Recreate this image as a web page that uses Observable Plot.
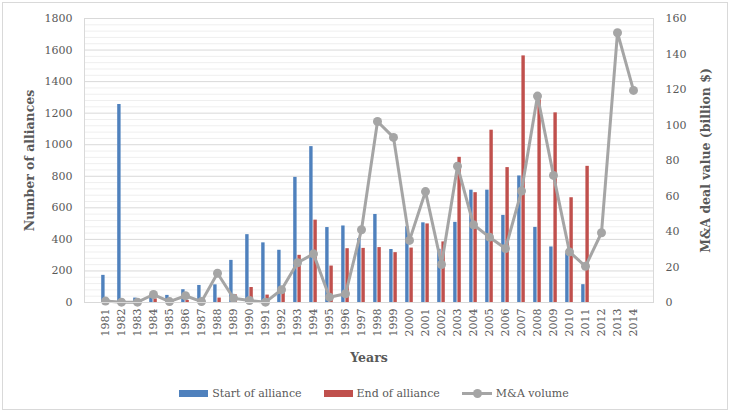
<!DOCTYPE html>
<html>
<head>
<meta charset="utf-8">
<script src="https://cdn.jsdelivr.net/npm/d3@7"></script>
<script src="https://cdn.jsdelivr.net/npm/@observablehq/plot@0.6"></script>
<style>
  body { margin: 0; background: #fff; }
  #chart { position: relative; width: 732px; height: 413px; font-family: "DejaVu Serif", serif; overflow: hidden; }
  #border { position: absolute; left: 2px; top: 2px; width: 726px; height: 408px; border: 1px solid #d9d9d9; box-sizing: border-box; pointer-events: none; }
  #plot { position: absolute; left: 0; top: 0; }
  #legend { position: absolute; top: 387px; left: 0; width: 732px; padding-left: 16px; box-sizing: border-box;
            display: flex; justify-content: center; align-items: center;
            font-family: "DejaVu Serif", serif; font-size: 11px; color: #595959; }
  .item { display: flex; align-items: center; margin: 0 11px; }
  .sw { display: inline-block; width: 29px; height: 7px; margin-right: 4px; }
  .ln { position: relative; display: inline-block; width: 30px; height: 9px; margin-right: 4px; }
  .ln::before { content: ""; position: absolute; left: 0; right: 0; top: 3px; height: 3px; background: #A5A5A5; }
  .ln::after { content: ""; position: absolute; left: 11px; top: 0; width: 9px; height: 9px; border-radius: 50%; background: #A5A5A5; }
</style>
</head>
<body>
<div id="chart">
  <div id="plot"></div>
  <div id="legend"></div>
  <div id="border"></div>
</div>
<script>
// ---- data ----
const years = [1981,1982,1983,1984,1985,1986,1987,1988,1989,1990,1991,1992,1993,1994,1995,1996,1997,
               1998,1999,2000,2001,2002,2003,2004,2005,2006,2007,2008,2009,2010,2011,2012,2013,2014];
const startAlliance = [172,1255,28,48,45,81,108,112,267,430,378,331,793,988,475,485,405,
                       558,336,480,505,337,508,712,712,552,802,476,352,310,113,0,0,0];
const endAlliance = [0,0,0,23,0,13,0,28,49,95,47,62,299,522,231,341,343,
                     348,316,345,498,384,920,696,1092,855,1563,1285,1202,664,863,0,0,0];
const maVolume = [0.8,0.2,0.2,4.5,0.5,3.8,0.5,16.5,2.4,1.1,0.2,7.2,22.4,27.4,3.0,4.9,41,
                  102,93,35,62.5,21.4,76.8,43.8,36.8,30.4,62.8,116.3,71.6,28.5,20.4,39.3,152,119.5];
const leftTicks = [0,200,400,600,800,1000,1200,1400,1600,1800];
const rightTicks = [0,20,40,60,80,100,120,140,160];
const seriesNames = ["Start of alliance", "End of alliance", "M&A volume"];
const colors = ["#4F81BD", "#C0504D", "#A5A5A5"];

// right axis (0-160) mapped onto the left scale (0-1800)
const k = 1800 / 160;
const rows = years.map((y, i) => ({year: String(y), start: startAlliance[i], end: endAlliance[i], ma: maVolume[i] * k}));
const minor = d3.range(0, 1801, 40).filter(v => v % 200 !== 0);

const chart = Plot.plot({
  width: 732, height: 372,
  marginTop: 18, marginBottom: 70, marginLeft: 84, marginRight: 79,
  style: {fontFamily: "DejaVu Serif, serif", fontSize: "11px", color: "#595959", background: "transparent"},
  x: {type: "band", domain: years.map(String), padding: 0},
  y: {domain: [0, 1800]},
  marks: [
    Plot.ruleY(minor, {stroke: "#efefef"}),
    Plot.ruleY(leftTicks, {stroke: "#d9d9d9"}),
    Plot.barY(rows, {x: "year", y: "start", fill: colors[0], insetLeft: 4.2, insetRight: 8.4}),
    Plot.barY(rows, {x: "year", y: "end", fill: colors[1], insetLeft: 8.4, insetRight: 4.2}),
    Plot.line(rows, {x: "year", y: "ma", stroke: colors[2], strokeWidth: 3}),
    Plot.dot(rows, {x: "year", y: "ma", fill: colors[2], r: 4.5}),
    Plot.frame({stroke: "#d9d9d9"}),
    Plot.axisX({tickRotate: -90, tickSize: 0, tickPadding: 6, label: "Years", labelAnchor: "center",
                labelArrow: "none", labelOffset: 59}),
    Plot.axisY({anchor: "left", ticks: leftTicks, tickFormat: d => String(d), tickSize: 0, tickPadding: 12,
                label: "Number of alliances", labelAnchor: "center", labelArrow: "none", labelOffset: 59}),
    Plot.axisY({anchor: "right", ticks: rightTicks.map(v => v * k), tickFormat: d => String(Math.round(d / k)),
                tickSize: 0, tickPadding: 12, label: "M&A deal value (billion $)", labelAnchor: "center",
                labelArrow: "none", labelOffset: 56})
  ]
});
d3.select(chart).selectAll("g[aria-label='x-axis label'] text, g[aria-label='y-axis label'] text")
  .style("font-weight", "bold").style("font-size", "12.5px");
d3.select(chart).selectAll("g[aria-label$='tick label']").style("font-weight", "normal");
document.getElementById("plot").appendChild(chart);

// legend
const lg = document.getElementById("legend");
seriesNames.forEach((name, i) => {
  const it = document.createElement("div");
  it.className = "item";
  const sw = document.createElement("span");
  if (i < 2) { sw.className = "sw"; sw.style.background = colors[i]; }
  else { sw.className = "ln"; }
  it.appendChild(sw);
  const t = document.createElement("span");
  t.textContent = name;
  it.appendChild(t);
  lg.appendChild(it);
});
</script>
</body>
</html>
